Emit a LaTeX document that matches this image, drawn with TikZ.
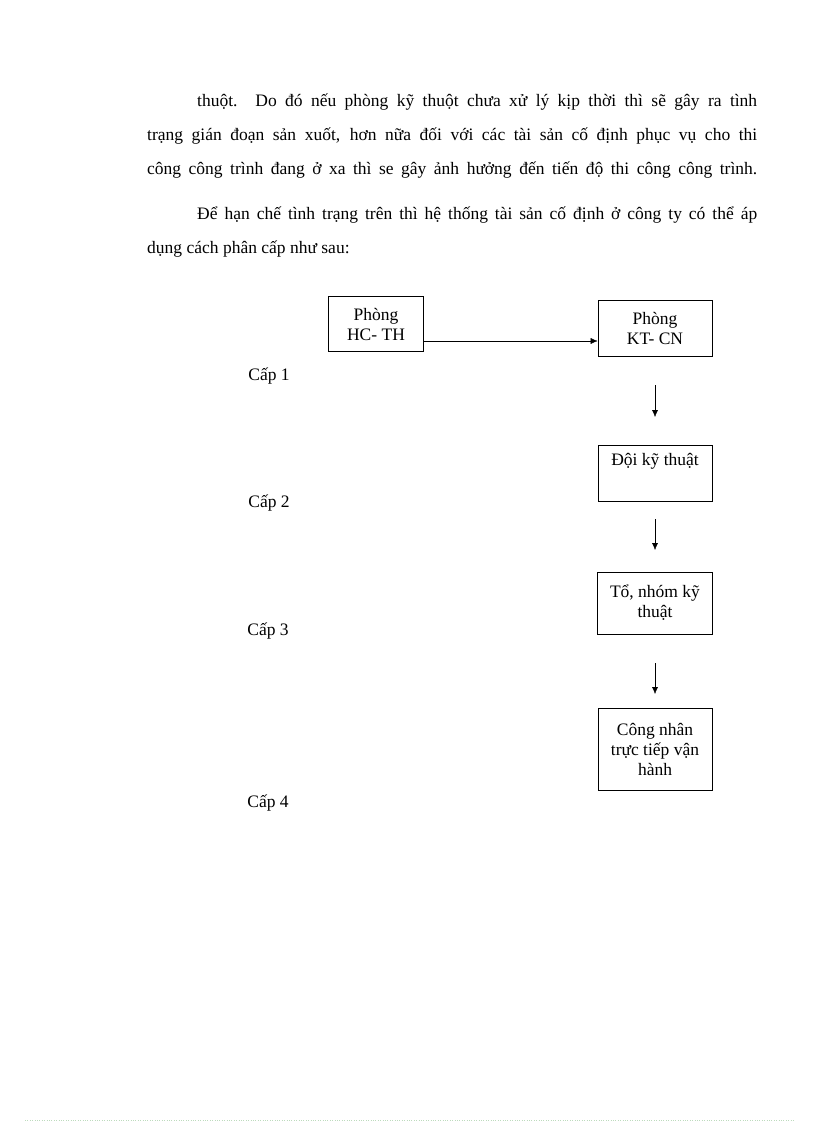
\documentclass[tikz,border=0pt]{standalone}
\usepackage{fontspec}
\setmainfont{Liberation Serif}
\usetikzlibrary{arrows.meta}
\begin{document}
\begin{tikzpicture}[x=1pt,y=-1pt,
  every node/.style={font=\fontsize{17.5}{20}\selectfont},
  box/.style={draw,thick,align=center,inner sep=2pt},
  arr/.style={-{Latex[length=7pt,width=6pt]},thin},
  txt/.style={anchor=base west,inner sep=0pt}]
\useasboundingbox (0,0) rectangle (816,1123);
\node[txt] (l1) at (197,107) {\makebox[560pt][s]{thuột. Do đó nếu phòng kỹ thuột chưa xử lý kịp thời thì sẽ gây ra tình}};
\node[txt] (l2) at (147,141) {\makebox[610pt][s]{trạng gián đoạn sản xuốt, hơn nữa đối với các tài sản cố định phục vụ cho thi}};
\node[txt] (l3) at (147,175) {\makebox[610pt][s]{công công trình đang ở xa thì se gây ảnh hưởng đến tiến độ thi công công trình.}};
\node[txt] (l4) at (197,219) {\makebox[560pt][s]{Để hạn chế tình trạng trên thì hệ thống tài sản cố định ở công ty có thể áp}};
\node[txt] (l5) at (147,253) {dụng cách phân cấp như sau:};

\node[box,minimum width=95pt,minimum height=55pt] (hc) at (376,324) {Phòng\\HC- TH};
\node[box,minimum width=114pt,minimum height=56pt] (kt) at (655,328) {Phòng\\KT- CN};
\node[box,minimum width=114pt,minimum height=56pt] (doi) at (655,473) {Đội kỹ thuật\\[8pt]\mbox{}};
\node[box,minimum width=115pt,minimum height=62pt] (to) at (655,603) {Tổ, nhóm kỹ\\thuật};
\node[box,minimum width=114pt,minimum height=82pt] (cn) at (655,749) {Công nhân\\trực tiếp vận\\hành};

\coordinate (a1) at (655,385); \coordinate (b1) at (655,417);
\coordinate (a2) at (655,519); \coordinate (b2) at (655,550);
\coordinate (a3) at (655,663); \coordinate (b3) at (655,694);
\draw[arr] (hc.east |- 0,341) -- (kt.west |- 0,341);
\draw[arr] (a1) -- (b1);
\draw[arr] (a2) -- (b2);
\draw[arr] (a3) -- (b3);

\node (c1) at (269,376) {Cấp 1};
\node (c2) at (269,503) {Cấp 2};
\node (c3) at (268,631) {Cấp 3};
\node (c4) at (268,803) {Cấp 4};

\draw[dotted,draw=green!30!gray!40] (25,1120) -- (795,1120);
\end{tikzpicture}
\end{document}
